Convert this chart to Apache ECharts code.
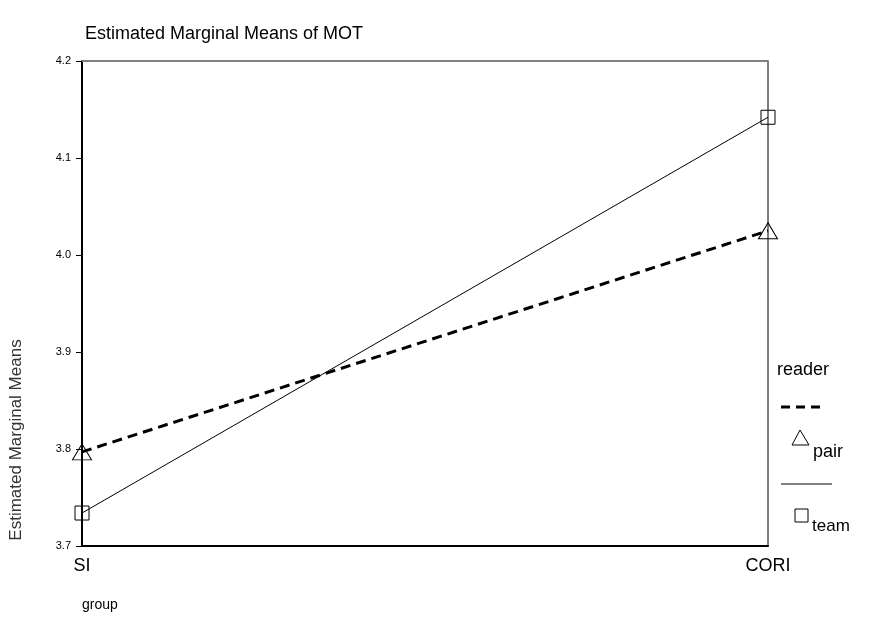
<!DOCTYPE html>
<html>
<head>
<meta charset="utf-8">
<script src="https://cdn.jsdelivr.net/npm/echarts@6/dist/echarts.min.js"></script>
<style>
  html, body { margin: 0; padding: 0; background: #fff; }
  #chart { width: 878px; height: 644px; }
</style>
</head>
<body>
<div id="chart"></div>
<script>
// categories and means
var groups = ['SI', 'CORI'];
var pairMeans = [3.797, 4.025];
var teamMeans = [3.734, 4.142];
var yTicks = { min: 3.7, max: 4.2, step: 0.1 };

var font = 'Liberation Sans, Arial, sans-serif';
var chart = echarts.init(document.getElementById('chart'));

var option = {
  backgroundColor: '#fff',
  animation: false,
  title: {
    text: 'Estimated Marginal Means of MOT',
    left: 80, top: 20,
    textStyle: { fontFamily: font, fontSize: 18, fontWeight: 'normal', color: '#000' }
  },
  grid: {
    left: 82, right: 110, top: 61, bottom: 98,
    show: true, borderColor: '#000', borderWidth: 1, backgroundColor: 'transparent'
  },
  xAxis: [{
    type: 'category',
    data: groups,
    boundaryGap: false,
    axisLine: { lineStyle: { color: '#000', width: 2 } },
    axisTick: { show: false },
    axisLabel: { fontFamily: font, fontSize: 18, color: '#000', margin: 11 }
  }, {
    type: 'category',
    data: groups,
    position: 'top',
    boundaryGap: false,
    axisLine: { lineStyle: { color: '#808080', width: 2 } },
    axisTick: { show: false },
    axisLabel: { show: false }
  }],
  yAxis: {
    type: 'value',
    min: yTicks.min, max: yTicks.max, interval: yTicks.step,
    axisLine: { show: true, lineStyle: { color: '#000', width: 2 } },
    axisTick: { show: true, length: 6, lineStyle: { color: '#000' } },
    splitLine: { show: false },
    axisLabel: {
      fontFamily: font, fontSize: 11, color: '#000', margin: 11,
      formatter: function (v) { return v.toFixed(1); }
    }
  },
  series: [{
    name: 'pair',
    type: 'line',
    data: pairMeans,
    symbol: 'triangle',
    symbolSize: [19, 16],
    lineStyle: { color: '#000', width: 3, type: [10, 6] },
    itemStyle: { color: 'rgba(255,255,255,0)', borderColor: '#000', borderWidth: 1 },
    z: 3
  }, {
    name: 'team',
    type: 'line',
    data: teamMeans,
    symbol: 'rect',
    symbolSize: 14,
    lineStyle: { color: '#000', width: 1 },
    itemStyle: { color: 'rgba(255,255,255,0)', borderColor: '#000', borderWidth: 1 },
    z: 3
  }],
  graphic: [
    { type: 'text', x: 16, y: 440, rotation: Math.PI / 2,
      style: { text: 'Estimated Marginal Means', font: '17px ' + font, fill: '#333', align: 'center', verticalAlign: 'middle' } },
    { type: 'text', left: 777, top: 361, style: { text: 'reader', font: '18px ' + font, fill: '#000' } },
    { type: 'line', shape: { x1: 781, y1: 407, x2: 821, y2: 407 }, style: { stroke: '#000', lineWidth: 3, lineDash: [9, 6] } },
    { type: 'polygon', shape: { points: [[800, 430], [792, 445], [809, 445]] }, style: { fill: 'none', stroke: '#000', lineWidth: 1 } },
    { type: 'text', left: 813, top: 443, style: { text: 'pair', font: '18px ' + font, fill: '#000' } },
    { type: 'line', shape: { x1: 781, y1: 484, x2: 832, y2: 484 }, style: { stroke: '#000', lineWidth: 1 } },
    { type: 'rect', shape: { x: 795, y: 509, width: 13, height: 13 }, style: { fill: 'none', stroke: '#000', lineWidth: 1 } },
    { type: 'text', left: 812, top: 518, style: { text: 'team', font: '17px ' + font, fill: '#000' } },
    { type: 'text', left: 82, top: 598, style: { text: 'group', font: '14px ' + font, fill: '#000' } }
  ]
};

chart.setOption(option);
</script>
</body>
</html>
